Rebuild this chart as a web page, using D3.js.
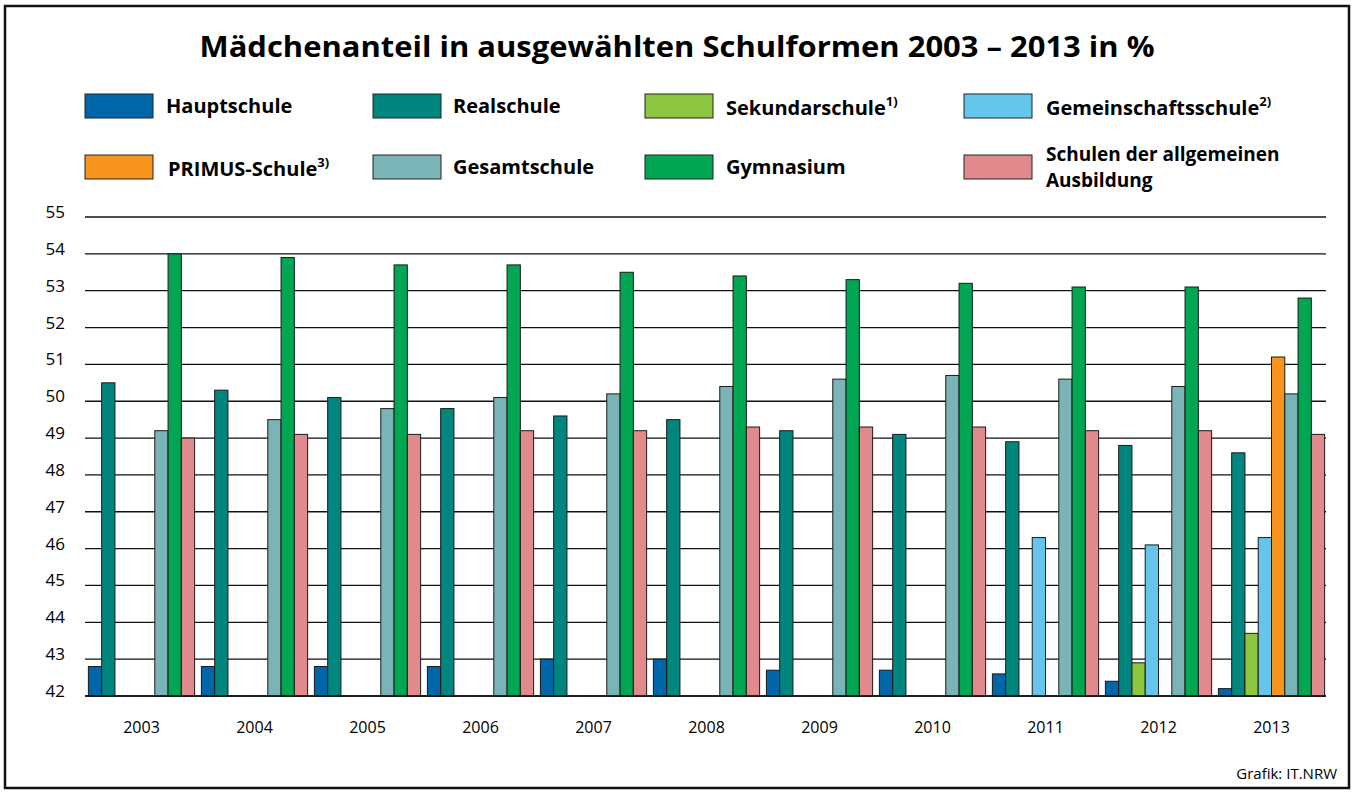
<!DOCTYPE html>
<html>
<head>
<meta charset="utf-8">
<script src="https://cdn.jsdelivr.net/npm/d3@7"></script>
<style>
  body { margin: 0; background: #fff; }
  svg { font-family: "Open Sans", "Noto Sans", sans-serif; }
</style>
</head>
<body>
<svg width="1354" height="792"></svg>
<script>
// data
var years = ["2003","2004","2005","2006","2007","2008","2009","2010","2011","2012","2013"];
var seriesNames = ["Hauptschule","Realschule","Sekundarschule","Gemeinschaftsschule","PRIMUS-Schule","Gesamtschule","Gymnasium","Schulen der allgemeinen Ausbildung"];
var seriesNotes = ["", "", "1)", "2)", "3)", "", "", ""];
var colors = ["#0066aa","#00857f","#8dc63f","#66c5eb","#f7941d","#7bb4b6","#00a651","#e08a8e"];

var hauptschule   = [42.8, 42.8, 42.8, 42.8, 43.0, 43.0, 42.7, 42.7, 42.6, 42.4, 42.2];
var realschule    = [50.5, 50.3, 50.1, 49.8, 49.6, 49.5, 49.2, 49.1, 48.9, 48.8, 48.6];
var sekundar      = [null, null, null, null, null, null, null, null, null, 42.9, 43.7];
var gemeinschaft  = [null, null, null, null, null, null, null, null, 46.3, 46.1, 46.3];
var primus        = [null, null, null, null, null, null, null, null, null, null, 51.2];
var gesamtschule  = [49.2, 49.5, 49.8, 50.1, 50.2, 50.4, 50.6, 50.7, 50.6, 50.4, 50.2];
var gymnasium     = [54.0, 53.9, 53.7, 53.7, 53.5, 53.4, 53.3, 53.2, 53.1, 53.1, 52.8];
var allgemein     = [49.0, 49.1, 49.1, 49.2, 49.2, 49.3, 49.3, 49.3, 49.2, 49.2, 49.1];
var yTicks = [42,43,44,45,46,47,48,49,50,51,52,53,54,55];

var values = [hauptschule, realschule, sekundar, gemeinschaft, primus, gesamtschule, gymnasium, allgemein];

var svg = d3.select("svg");

// outer frame
svg.append("rect")
    .attr("x", 5).attr("y", 6)
    .attr("width", 1344).attr("height", 782)
    .attr("fill", "none")
    .attr("stroke", "#111")
    .attr("stroke-width", 2.5);

// title
svg.append("text")
    .attr("x", 677).attr("y", 57)
    .attr("text-anchor", "middle")
    .attr("font-size", 28)
    .attr("font-weight", "bold")
    .attr("textLength", 955)
    .attr("lengthAdjust", "spacingAndGlyphs")
    .text("Mädchenanteil in ausgewählten Schulformen 2003 – 2013 in %");

// legend
var legX = [85, 373, 645, 964];
var legTextX = [166, 453, 726, 1046];
var legY = [94, 155];

seriesNames.forEach(function(name, s) {
    var col = s % 4, row = Math.floor(s / 4);
    var g = svg.append("g").attr("class", "legend");
    g.append("rect")
        .attr("x", legX[col]).attr("y", legY[row])
        .attr("width", 68).attr("height", 24)
        .attr("fill", colors[s])
        .attr("stroke", "#222")
        .attr("stroke-width", 1);
    if (s === 7) {
        // two-line label
        g.append("text")
            .attr("x", legTextX[col]).attr("y", legY[row] + 6)
            .attr("font-size", 19).attr("font-weight", "bold")
            .text("Schulen der allgemeinen");
        g.append("text")
            .attr("x", legTextX[col]).attr("y", legY[row] + 32)
            .attr("font-size", 19).attr("font-weight", "bold")
            .text("Ausbildung");
    } else {
        var t = g.append("text")
            .attr("x", (s === 4 ? 168 : legTextX[col]))
            .attr("y", legY[row] + 19 + (seriesNotes[s] ? 2 : 0))
            .attr("font-size", 20).attr("font-weight", "bold")
            .text(name);
        if (seriesNotes[s]) {
            t.append("tspan")
                .attr("dy", -9)
                .attr("font-size", 13)
                .text(seriesNotes[s]);
        }
    }
});

// scales
var y = d3.scaleLinear().domain([42, 55]).range([696, 217]);
var x0 = d3.scaleBand().domain(years).range([85, 1328]).paddingInner(0.06).paddingOuter(0.03);
var x1 = d3.scaleBand().domain(d3.range(seriesNames.length)).range([0, x0.bandwidth()]);

// gridlines
svg.append("g")
    .selectAll("line")
    .data(yTicks)
    .enter().append("line")
    .attr("x1", 85).attr("x2", 1326)
    .attr("y1", function(d) { return y(d); })
    .attr("y2", function(d) { return y(d); })
    .attr("stroke", "#111")
    .attr("stroke-width", 1.3);

// y labels
svg.append("g")
    .selectAll("text")
    .data(yTicks)
    .enter().append("text")
    .attr("x", 65)
    .attr("y", function(d) { return y(d) + 1; })
    .attr("text-anchor", "end")
    .attr("font-size", 17)
    .text(function(d) { return d; });

// bars
var barData = [];
years.forEach(function(yr, i) {
    values.forEach(function(arr, s) {
        if (arr[i] != null) barData.push({year: yr, s: s, v: arr[i]});
    });
});

svg.append("g")
    .selectAll("rect")
    .data(barData)
    .enter().append("rect")
    .attr("x", function(d) { return x0(d.year) + x1(d.s); })
    .attr("y", function(d) { return y(d.v); })
    .attr("width", x1.bandwidth())
    .attr("height", function(d) { return y(42) - y(d.v); })
    .attr("fill", function(d) { return colors[d.s]; })
    .attr("stroke", "#1a1a1a")
    .attr("stroke-width", 1);

// baseline
svg.append("line")
    .attr("x1", 85).attr("x2", 1326)
    .attr("y1", y(42)).attr("y2", y(42))
    .attr("stroke", "#111")
    .attr("stroke-width", 1.5);

// x labels
svg.append("g")
    .selectAll("text")
    .data(years)
    .enter().append("text")
    .attr("x", function(d) { return x0(d) + x0.bandwidth() / 2; })
    .attr("y", 733)
    .attr("text-anchor", "middle")
    .attr("font-size", 16)
    .text(function(d) { return d; });

// source
svg.append("text")
    .attr("x", 1337).attr("y", 779)
    .attr("text-anchor", "end")
    .attr("font-size", 15)
    .text("Grafik: IT.NRW");
</script>
</body>
</html>
